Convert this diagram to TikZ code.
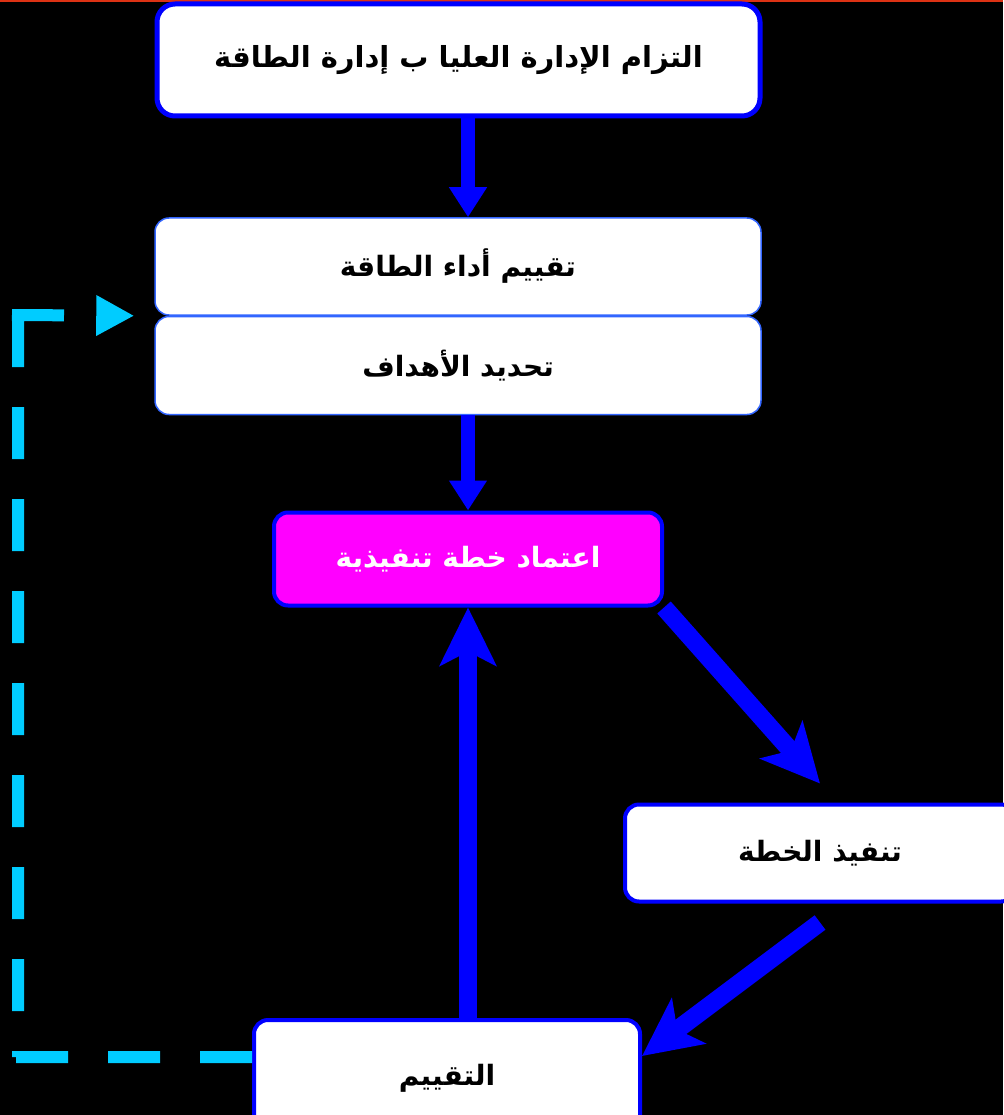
\documentclass[tikz,border=0pt]{standalone}
\usepackage{fontspec}
\usepackage{tikz}
\usetikzlibrary{arrows.meta,positioning}
\TeXXeTstate=1
\newfontfamily\arabicfont[Script=Arabic]{DejaVu Sans}
\newcommand{\ar}[1]{\arabicfont\bfseries\beginR #1\endR}
\definecolor{linkblue}{RGB}{0,0,255}
\definecolor{liteblue}{RGB}{51,102,255}
\definecolor{backcyan}{RGB}{0,204,255}
\definecolor{planpink}{RGB}{255,0,255}
\definecolor{edgered}{RGB}{220,50,20}

\tikzset{
  box/.style={draw=linkblue, fill=white, line width=4pt, rounded corners=14pt,
    minimum width=386pt, minimum height=97pt, text=black,
    font=\fontsize{28}{34}\selectfont},
  lite/.style={box, draw=liteblue, line width=1.5pt, minimum width=606pt},
  plan/.style={box, fill=planpink, text=white, minimum width=388pt, minimum height=93pt},
  flow/.style={draw=linkblue, line width=14pt, -{Triangle[length=30pt,width=36pt]}},
  bigflow/.style={draw=linkblue, line width=18pt, -{Stealth[length=58pt,width=56pt,inset=14pt]}},
  backline/.style={draw=backcyan, line width=12pt, dash pattern=on 52pt off 40pt,
    -{Triangle[length=38pt,width=38pt]}}
}

\begin{document}
\begin{tikzpicture}[x=1pt, y=-1pt]
  \fill[black] (0,0) rectangle (1003,1115);
  \useasboundingbox (0,0) rectangle (1003,1115);
  \draw[edgered, line width=3pt] (0,1) -- (1003,1);
  % Nodes
  \node[box, line width=5pt, rounded corners=18pt, minimum width=603pt, minimum height=112pt,
    font=\fontsize{29}{35}\selectfont] (commit) at (458.5,60) {\ar{التزام الإدارة العليا ب إدارة الطاقة}}; %
  \node[lite] (review) at (458,266.5) {\ar{تقييم أداء الطاقة}}; %
  \node[lite, below=0pt of review, minimum height=98pt] (goals) {\ar{تحديد الأهداف}}; %
  \node[plan] (plan) at (468,559) {\ar{اعتماد خطة تنفيذية}}; %
  \node[box, minimum width=390pt] (exec) at (820,853) {\ar{تنفيذ الخطة}}; %
  \node[box, minimum height=116pt] (eval) at (447,1078) {\ar{التقييم}}; %
  \coordinate (lowbend) at (18,1057); %
  \coordinate (highbend) at (18,315); %
  % Edges
  \draw[flow] (commit.south -| plan) -- (review.north -| plan); %
  \draw[flow] (goals.south -| plan) -- (plan.north); %
  \draw[bigflow] (eval.north -| plan) -- (plan.south); %
  \draw[bigflow] (plan.south east) -- ([yshift=19pt]exec.north); %
  \draw[bigflow] ([yshift=-19pt]exec.south) -- ([yshift=22pt]eval.east); %
  \draw[backline] (eval.west |- lowbend) -- ([xshift=-6pt]lowbend) (highbend) -- (lowbend)
    ([xshift=-6pt]highbend) -- ([xshift=-20pt]review.south west); %
\end{tikzpicture}
\end{document}
